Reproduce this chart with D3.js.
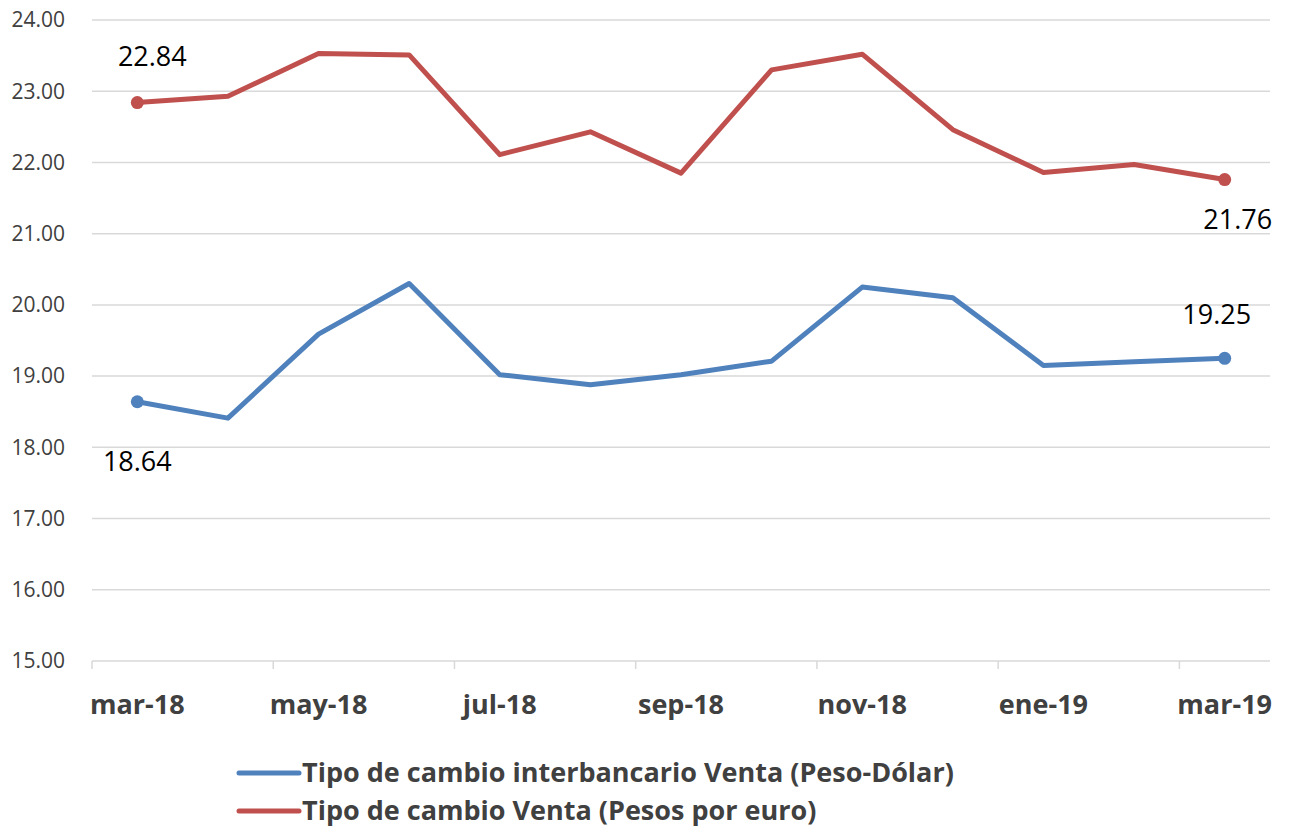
<!DOCTYPE html>
<html>
<head>
<meta charset="utf-8">
<script src="https://cdn.jsdelivr.net/npm/d3@7"></script>
<style>
  body { margin: 0; background: #fff; }
  text { font-family: "Open Sans", Lato, sans-serif; }
</style>
</head>
<body>
<script>
var months = ["mar-18","abr-18","may-18","jun-18","jul-18","ago-18","sep-18","oct-18","nov-18","dic-18","ene-19","feb-19","mar-19"];
var dolar = [18.64, 18.41, 19.59, 20.30, 19.02, 18.88, 19.02, 19.21, 20.25, 20.10, 19.15, 19.20, 19.25];
var euro  = [22.84, 22.93, 23.53, 23.51, 22.11, 22.43, 21.85, 23.30, 23.52, 22.46, 21.86, 21.97, 21.76];
var yTicks = [15, 16, 17, 18, 19, 20, 21, 22, 23, 24];
var seriesNames = ["Tipo de cambio interbancario Venta (Peso-Dólar)", "Tipo de cambio Venta (Pesos por euro)"];

var width = 1292, height = 827;
var margin = {top: 20, right: 22, bottom: 166, left: 92};

var svg = d3.select("body").append("svg")
    .attr("width", width)
    .attr("height", height);

var x = d3.scaleBand()
    .domain(months)
    .range([margin.left, width - margin.right]);

var y = d3.scaleLinear()
    .domain([15, 24])
    .range([height - margin.bottom, margin.top]);

// gridlines
svg.append("g")
  .selectAll("line")
    .data(yTicks)
  .enter().append("line")
    .attr("x1", margin.left)
    .attr("x2", width - margin.right)
    .attr("y1", function(d) { return y(d); })
    .attr("y2", function(d) { return y(d); })
    .style("stroke", "#d9d9d9")
    .style("stroke-width", 1.5);

// y labels
svg.append("g")
  .selectAll("text")
    .data(yTicks)
  .enter().append("text")
    .attr("x", 65)
    .attr("y", function(d) { return y(d); })
    .attr("dy", "0.35em")
    .attr("text-anchor", "end")
    .style("font-size", "21px")
    .style("fill", "#404040")
    .text(function(d) { return d3.format(".2f")(d); });

// x tick marks every two months, at band edges
var tickIdx = d3.range(0, months.length, 2);
svg.append("g")
  .selectAll("line")
    .data(tickIdx)
  .enter().append("line")
    .attr("x1", function(i) { return x(months[i]); })
    .attr("x2", function(i) { return x(months[i]); })
    .attr("y1", y(15))
    .attr("y2", y(15) + 8)
    .style("stroke", "#d9d9d9")
    .style("stroke-width", 1.5);

svg.append("g")
  .selectAll("text")
    .data(tickIdx)
  .enter().append("text")
    .attr("x", function(i) { return x(months[i]) + x.bandwidth() / 2; })
    .attr("y", 714)
    .attr("text-anchor", "middle")
    .style("font-size", "27px")
    .style("font-weight", "bold")
    .style("fill", "#404040")
    .text(function(i) { return months[i]; });

var line = d3.line()
    .x(function(d, i) { return x(months[i]) + x.bandwidth() / 2; })
    .y(function(d) { return y(d); });

var series = [
  {values: dolar, color: "#4f81bd", name: seriesNames[0], first: [0, 60], last: [-8, -44]},
  {values: euro,  color: "#c0504d", name: seriesNames[1], first: [15, -46], last: [13, 40]}
];

series.forEach(function(s) {
  svg.append("path")
    .datum(s.values)
    .attr("d", line)
    .style("fill", "none")
    .style("stroke", s.color)
    .style("stroke-width", 5)
    .style("stroke-linejoin", "round");

  var ends = [0, s.values.length - 1];
  svg.append("g")
    .selectAll("circle")
      .data(ends)
    .enter().append("circle")
      .attr("cx", function(i) { return x(months[i]) + x.bandwidth() / 2; })
      .attr("cy", function(i) { return y(s.values[i]); })
      .attr("r", 6.5)
      .style("fill", s.color);

  svg.append("g")
    .selectAll("text")
      .data(ends)
    .enter().append("text")
      .attr("x", function(i) { return x(months[i]) + x.bandwidth() / 2 + (i === 0 ? s.first[0] : s.last[0]); })
      .attr("y", function(i) { return y(s.values[i]) + (i === 0 ? s.first[1] : s.last[1]); })
      .attr("dy", "0.35em")
      .attr("text-anchor", "middle")
      .style("font-size", "27px")
      .style("fill", "#000")
      .text(function(i) { return d3.format(".2f")(s.values[i]); });
});

// legend
var legend = svg.append("g")
  .selectAll("g")
    .data(series)
  .enter().append("g")
    .attr("transform", function(d, i) { return "translate(237," + (773 + i * 38) + ")"; });

legend.append("line")
    .attr("x1", 2).attr("x2", 62)
    .style("stroke", function(d) { return d.color; })
    .style("stroke-width", 5)
    .style("stroke-linecap", "round");

legend.append("text")
    .attr("x", 65)
    .attr("dy", "0.35em")
    .style("font-size", "27px")
    .style("font-weight", "bold")
    .style("fill", "#404040")
    .text(function(d) { return d.name; });
</script>
</body>
</html>
